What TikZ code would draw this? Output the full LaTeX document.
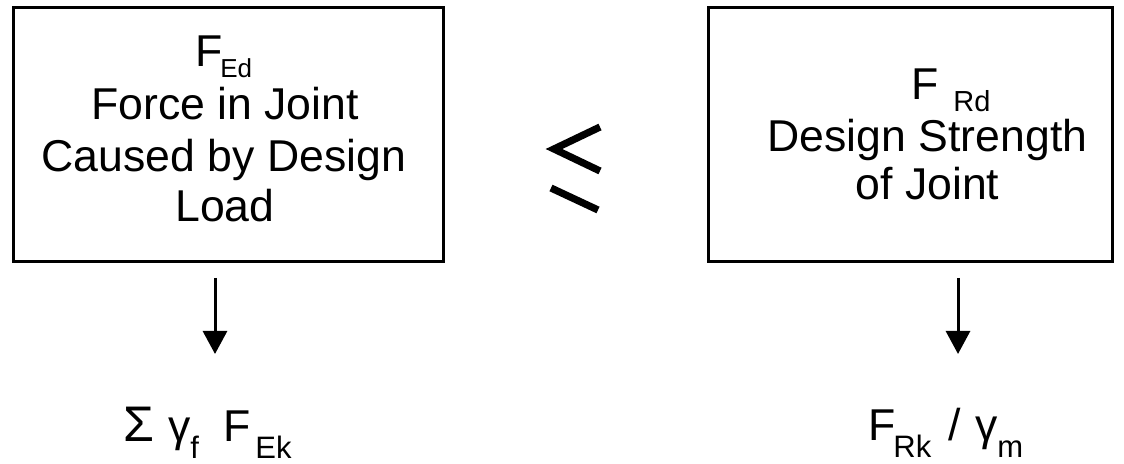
\documentclass[tikz,border=0pt]{standalone}
\usepackage{fontspec}
\setmainfont{Liberation Sans}
\usetikzlibrary{arrows.meta}
\newcommand{\subtxt}[3]{\raisebox{-#1}{\fontsize{#2}{#2}\selectfont #3}}
\newcommand{\at}[2]{\rlap{#2}\hspace{#1}}
\tikzset{
  boxst/.style={draw=black, line width=1.5pt, inner sep=0pt, fill=white},
  txt/.style={inner sep=0pt, font=\fontsize{22.3pt}{25pt}\selectfont, anchor=base},
  txtw/.style={txt, anchor=base west},
  arr/.style={line width=1.5pt, -{Triangle[width=12pt,length=11.5pt]}},
  leq/.style={line width=3.6pt, line cap=butt, line join=miter}
}
\begin{document}
\begin{tikzpicture}[x=0.5pt,y=-0.5pt]
\useasboundingbox (0,0) rectangle (1124,464);
% boxes
\node[boxst, minimum width=215pt, minimum height=127pt] (lbox) at (228,135) {};
\node[boxst, minimum width=202pt, minimum height=127pt] (rbox) at (910,135) {};
% left box text
\node[txtw] (fed) at (195,67) {\at{12.5pt}{F}\subtxt{5.5pt}{13pt}{Ed}};
\node[txt] (l1) at (225,120) {Force in Joint};
\node[txt] (l2) at (224,172) {Caused by Design};
\node[txt] (l3) at (225,222) {Load};
% right box text
\node[txtw] (frd) at (911,100) {\at{21pt}{F}\subtxt{6pt}{14.5pt}{Rd}};
\node[txt] (r1) at (927.5,152) {Design Strength};
\node[txt] (r2) at (927.5,200) {of Joint};
% less-or-equal sign
\coordinate (q1) at (600,127);
\coordinate (q2) at (554,149);
\coordinate (q3) at (600,171);
\coordinate (q4) at (551,188);
\coordinate (q5) at (598,210);
\draw[leq] (q1) -- (q2) -- (q3);
\draw[leq] (q4) -- (q5);
% arrows
\coordinate (la) at (215,278);
\coordinate (lb) at (215,354);
\coordinate (ra) at (958,278);
\coordinate (rb) at (958,354);
\draw[arr] (la) -- (lb);
\draw[arr] (ra) -- (rb);
% bottom texts
\node[txtw] (lres) at (123,442) {\at{22.5pt}{\fontsize{25pt}{25pt}\selectfont Σ}\at{11pt}{γ}\at{16.5pt}{\subtxt{8.5pt}{15.5pt}{f}}\at{16pt}{F}\subtxt{8.5pt}{15.5pt}{Ek}};
\node[txtw] (rres) at (868,441) {\at{12.5pt}{F}\at{27.5pt}{\subtxt{8.5pt}{15.5pt}{Rk}}\at{13.5pt}{/}\at{11pt}{γ}\subtxt{8.5pt}{15.5pt}{m}};
\end{tikzpicture}
\end{document}
